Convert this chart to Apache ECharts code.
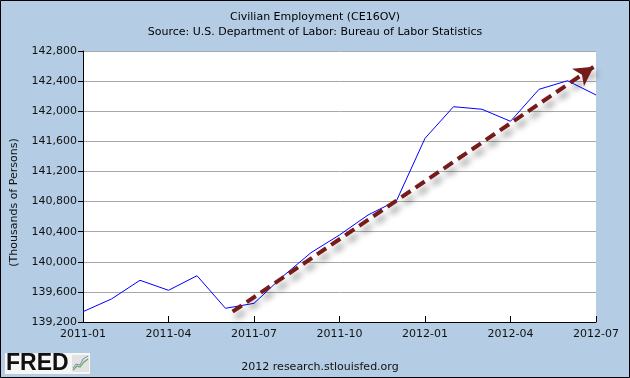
<!DOCTYPE html>
<html>
<head>
<meta charset="utf-8">
<script src="https://cdn.jsdelivr.net/npm/echarts@6/dist/echarts.min.js"></script>
<style>
html,body{margin:0;padding:0;background:#b4cde4;}
#chart{width:630px;height:378px;}
</style>
</head>
<body>
<div id="chart"></div>
<script>
// ---- data ----
var months = ['2011-01','2011-02','2011-03','2011-04','2011-05','2011-06','2011-07','2011-08','2011-09','2011-10','2011-11','2011-12','2012-01','2012-02','2012-03','2012-04','2012-05','2012-06','2012-07'];
var employment = [139337,139506,139754,139621,139815,139382,139448,139802,140121,140356,140621,140811,141640,142060,142026,141866,142291,142405,142216];
var xTickLabels = ['2011-01','2011-04','2011-07','2011-10','2012-01','2012-04','2012-07'];
var yTicks = [139200,139600,140000,140400,140800,141200,141600,142000,142400,142800];
// trend arrow annotation: [month index, value] start and end
var trendStart = [5.25, 139337];
var trendEnd = [17.92, 142590];

var FONT = 'DejaVu Sans';
var chart = echarts.init(document.getElementById('chart'), null, {renderer:'canvas'});
var option = {
  backgroundColor: '#b4cde4',
  animation: false,
  title: {
    text: 'Civilian Employment (CE16OV)',
    subtext: 'Source: U.S. Department of Labor: Bureau of Labor Statistics',
    left: 'center',
    top: 7,
    itemGap: 4,
    textStyle: {fontFamily: FONT, fontSize: 11, fontWeight: 'normal', color: '#000'},
    subtextStyle: {fontFamily: FONT, fontSize: 11, color: '#000'}
  },
  grid: {left: 83, right: 34, top: 51, bottom: 56, show: true, backgroundColor: '#fff', borderWidth: 0},
  xAxis: {
    type: 'value',
    min: 0, max: months.length - 1, interval: 3,
    axisLine: {show: true, lineStyle: {color: '#000', width: 1}},
    axisTick: {show: true, inside: true, length: 6, lineStyle: {color: '#000'}},
    splitLine: {show: false},
    axisLabel: {
      margin: 7, fontFamily: FONT, fontSize: 11, color: '#111',
      formatter: function (v) { return xTickLabels[Math.round(v / 3)] || ''; }
    }
  },
  yAxis: {
    type: 'value',
    min: yTicks[0], max: yTicks[yTicks.length - 1], interval: 400,
    name: '(Thousands of Persons)',
    nameLocation: 'middle',
    nameGap: 63,
    nameTextStyle: {fontFamily: FONT, fontSize: 11, color: '#111', padding: [0, 32, 0, 0]},
    axisLine: {show: true, lineStyle: {color: '#000', width: 1}},
    axisTick: {show: true, length: 5, lineStyle: {color: '#000'}},
    splitLine: {show: true, lineStyle: {color: '#a8a8a8', width: 1}},
    axisLabel: {
      margin: 6, fontFamily: FONT, fontSize: 11, color: '#111',
      formatter: function (v) { return v.toLocaleString('en-US'); }
    }
  },
  series: [{
    type: 'line',
    data: months.map(function (m, i) { return [i, employment[i]]; }),
    showSymbol: false,
    symbol: 'none',
    lineStyle: {color: '#0000ff', width: 1},
    z: 2,
    markLine: {
      silent: true,
      symbol: ['none', 'arrow'],
      symbolSize: [16, 19],
      label: {show: false},
      lineStyle: {
        color: '#761a1a', width: 4, type: [11, 6],
        shadowColor: 'rgba(0,0,0,0.45)', shadowBlur: 6, shadowOffsetX: 3, shadowOffsetY: 6
      },
      data: [[{coord: trendStart}, {coord: trendEnd}]]
    }
  }],
  graphic: [
    {type: 'rect', shape: {x: 0.5, y: 0.5, width: 629, height: 377}, style: {fill: 'none', stroke: '#000', lineWidth: 1}, z: 100},
    {type: 'rect', shape: {x: 5, y: 353, width: 85, height: 21}, style: {fill: '#f6f6f6'}},
    {type: 'text', x: 6, y: 364, style: {text: 'FRED', font: 'bold 23px "Liberation Sans"', fill: '#111', verticalAlign: 'middle'}},
    {type: 'rect', shape: {x: 72, y: 355, width: 17, height: 17}, style: {fill: '#e2e2e2'}},
    {type: 'polyline', shape: {points: [[73,370],[77,366],[80,367],[84,362],[88,359]]}, style: {stroke: '#6aa84f', lineWidth: 1.2, fill: 'none'}},
    {type: 'polyline', shape: {points: [[73,368],[76,364],[80,365],[83,359],[88,356]]}, style: {stroke: '#6f8fc8', lineWidth: 1, fill: 'none'}},
    {type: 'text', x: 320, y: 367, style: {text: '2012 research.stlouisfed.org', font: '11px "DejaVu Sans"', fill: '#111', align: 'center', verticalAlign: 'middle'}}
  ]
};
chart.setOption(option);
</script>
</body>
</html>
